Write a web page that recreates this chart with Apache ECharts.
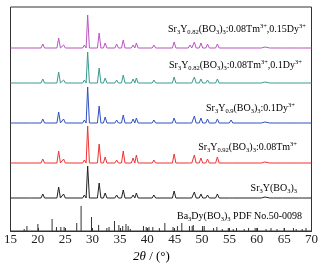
<!DOCTYPE html>
<html><head><meta charset="utf-8">
<script src="https://cdn.jsdelivr.net/npm/echarts@6/dist/echarts.min.js"></script>
<style>html,body{margin:0;padding:0;background:#fff}#c{width:323px;height:266px}</style>
</head><body><div id="c"></div>
<script>
// Peak positions (2θ, degrees) shared by the Sr3Y(BO3)3 phase patterns
const peakPos = [19.0, 20.9, 23.8, 24.7, 28.5, 29.1, 31.2, 32.3, 34.4, 35.6, 37.4, 38.0, 41.2, 44.9, 47.8, 48.6, 49.8, 51.0, 52.8, 55.3, 60.5, 61.5, 62.7, 65.0, 68.0];
// Peak intensities (arb. units) for each sample
const hBlack  = [2, 4, 11, 4, 3, 32, 15, 5, 3, 8, 3, 5, 3, 7, 2, 6, 4, 3, 4, 2, 1, 1, 1, 0.5, 0.5];
const hRed    = [2, 4, 12, 4, 3, 37, 19, 6, 3, 12, 5, 8, 3, 9, 2, 8, 5, 4, 6, 2, 1, 1, 1, 0.5, 0.5];
const hBlue   = [2, 4, 11, 4, 3, 36, 17, 6, 3, 8, 4, 5, 3, 5, 2, 7, 5, 4, 4, 3, 1, 1, 1, 0.5, 0.5];
const hTeal   = [2, 4, 11, 3, 3, 31, 15, 5, 3, 8, 4, 5, 3, 6, 2, 6, 4, 3, 4, 2, 1, 1, 1, 0.5, 0.5];
const hPurple = [2, 4, 10, 3, 3, 33, 15, 5, 4, 8, 3, 5, 3, 6, 3, 6, 5, 4, 4, 2, 1, 1, 1, 0.5, 0.5];
// Vertical offsets of each stacked pattern
const offsets = {black: 33, red: 68, blue: 108, teal: 148, purple: 183};
// Reference pattern Ba3Dy(BO3)3 PDF No.50-0098: stick positions and heights
const pdfPos = [17.5, 18.0, 20.0, 22.6, 23.4, 24.2, 24.8, 27.1, 27.9, 29.8, 31.1, 32.6, 33.0, 34.0, 34.8, 35.5, 36.1, 36.5, 36.9, 39.3, 39.8, 40.3, 41.0, 42.2, 43.2, 44.7, 45.5, 46.3, 47.7, 48.2, 48.4, 50.1, 50.4, 52.1, 52.7, 53.7, 54.8, 55.7, 56.3, 57.7, 58.5, 59.7, 60.0, 61.7, 62.6, 63.7, 65.0, 66.7, 67.2, 68.3, 69.0];
const pdfH   = [2, 5, 7, 12, 4, 4, 4, 8, 25, 14, 6, 3, 4, 10, 6, 5, 7, 5, 2, 5, 4, 4, 4, 3, 8, 4, 5, 8, 5, 5, 6, 5, 5, 3, 4, 2, 3, 2, 3, 2, 3, 3, 3, 2, 3, 2, 3, 3, 2, 2, 3];
const xTicks = [15, 20, 25, 30, 35, 40, 45, 50, 55, 60, 65, 70];

const HW = 0.32;
function profile(heights, base) {
  const pts = [[15, base]];
  peakPos.forEach((p, i) => {
    pts.push([p - HW, base], [p, base + heights[i]], [p + HW, base]);
  });
  pts.push([70, base]);
  return pts;
}
function lineSeries(name, heights, base, color) {
  return {name, type: 'line', data: profile(heights, base), showSymbol: false, symbol: 'none',
    lineStyle: {color, width: 1}, silent: true, animation: false};
}
const serif = 'Liberation Serif';
const rich = {
  n: {fontFamily: serif, fontSize: 10, lineHeight: 13, color: '#222'},
  b: {fontFamily: serif, fontSize: 6.5, lineHeight: 7, verticalAlign: 'bottom', color: '#222'},
  p: {fontFamily: serif, fontSize: 6.5, lineHeight: 7, verticalAlign: 'top', color: '#222'}
};
function lbl(text, right, cy) {
  return {type: 'text', right: right, top: cy - 6.5, style: {text, rich, align: 'right'}, silent: true};
}
const chart = echarts.init(document.getElementById('c'), null, {renderer: 'canvas'});
chart.setOption({
  animation: false,
  grid: {left: 10.5, right: 11.5, top: 7, bottom: 35, show: true, borderColor: '#333', borderWidth: 1},
  xAxis: {type: 'value', min: 15, max: 70, interval: 5,
    axisLine: {show: true, lineStyle: {color: '#333'}},
    axisTick: {show: true, inside: true, length: 3, lineStyle: {color: '#333'}},
    splitLine: {show: false},
    axisLabel: {fontFamily: serif, fontSize: 13, color: '#222', margin: 2,
      formatter: v => xTicks.includes(v) ? String(v) : ''}},
  yAxis: {type: 'value', min: 0, max: 224, show: false, splitLine: {show: false}},
  series: [
    {type: 'bar', data: pdfPos.map((p, i) => [p, pdfH[i]]), barWidth: 1, itemStyle: {color: '#333'}, silent: true},
    lineSeries('black', hBlack, offsets.black, '#222222'),
    lineSeries('red', hRed, offsets.red, '#ee3333'),
    lineSeries('blue', hBlue, offsets.blue, '#3050c0'),
    lineSeries('teal', hTeal, offsets.teal, '#3a9a90'),
    lineSeries('purple', hPurple, offsets.purple, '#b955c0')
  ],
  graphic: [
    lbl('{n|Sr}{b|3}{n|Y}{b|0.82}{n|(BO}{b|3}{n|)}{b|3}{n|:0.08Tm}{p|3+}{n|,0.15Dy}{p|3+}', 17, 29),
    lbl('{n|Sr}{b|3}{n|Y}{b|0.82}{n|(BO}{b|3}{n|)}{b|3}{n|:0.08Tm}{p|3+}{n|,0.1Dy}{p|3+}', 21, 65),
    lbl('{n|Sr}{b|3}{n|Y}{b|0.9}{n|(BO}{b|3}{n|)}{b|3}{n|:0.1Dy}{p|3+}', 28, 108),
    lbl('{n|Sr}{b|3}{n|Y}{b|0.92}{n|(BO}{b|3}{n|)}{b|3}{n|:0.08Tm}{p|3+}', 26, 147),
    lbl('{n|Sr}{b|3}{n|Y(BO}{b|3}{n|)}{b|3}', 26, 190),
    lbl('{n|Ba}{b|3}{n|Dy(BO}{b|3}{n|)}{b|3}{n| PDF No.50-0098}', 21, 218),
    {type: 'text', left: 133, top: 250, silent: true,
      style: {text: '{i|2θ}{r| / (°)}', rich: {
        i: {fontFamily: serif, fontSize: 13, fontStyle: 'italic', color: '#222'},
        r: {fontFamily: serif, fontSize: 13, color: '#222'}}}}
  ]
});
</script></body></html>
